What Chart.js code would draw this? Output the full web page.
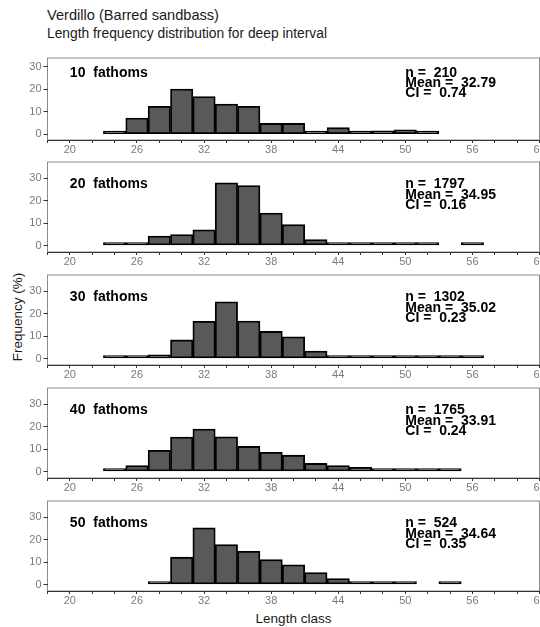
<!DOCTYPE html>
<html>
<head>
<meta charset="utf-8">
<script src="https://cdn.jsdelivr.net/npm/chart.js@4.4.0/dist/chart.umd.min.js"></script>
<style>
  html, body { margin: 0; padding: 0; background: #fff; }
  body { width: 540px; height: 627px; position: relative; overflow: hidden;
         font-family: "Liberation Sans", Arial, sans-serif; }
  .txt { position: absolute; white-space: nowrap; color: #1a1a1a; line-height: 1; }
  canvas { position: absolute; left: 0; }
</style>
</head>
<body>
<div class="txt" style="left:47px; top:14.5px; font-size:14.6px; transform:translateY(-50%);">Verdillo (Barred sandbass)</div>
<div class="txt" style="left:47px; top:34px; font-size:13.8px; transform:translateY(-50%);">Length frequency distribution for deep interval</div>
<div class="txt" style="left:17.5px; top:317px; font-size:13.5px; transform:translate(-50%,-50%) rotate(-90deg);">Frequency (%)</div>
<div class="txt" style="left:293.5px; top:619px; font-size:13.5px; transform:translate(-50%,-50%);">Length class</div>

<script>
// length class (bin centres, 2 cm bins)
const lengthClasses = [24, 26, 28, 30, 32, 34, 36, 38, 40, 42, 44, 46, 48, 50, 52, 54, 56];

// frequency (%) per depth, null = no fish in that class
const freq10 = [0.48, 7.14, 12.38, 20.0, 16.67, 13.33, 12.38, 4.76, 4.76, 0.95, 2.86, 0.48, 1.43, 1.9, 0.48, null, null];
const freq20 = [0.2, 0.9, 4.2, 4.9, 7.0, 28.0, 26.8, 14.5, 9.3, 2.7, 0.7, 0.4, 0.3, 0.3, 0.3, null, 0.15];
const freq30 = [0.15, 0.6, 1.6, 8.3, 16.6, 25.3, 16.7, 12.1, 9.7, 3.3, 1.3, 0.9, 0.7, 0.8, 0.5, 0.3, 0.2];
const freq40 = [0.3, 2.6, 9.5, 15.4, 19.0, 15.5, 11.2, 8.6, 7.3, 3.6, 2.7, 1.9, 1.0, 0.4, 0.7, 0.6, null];
const freq50 = [null, null, 1.3, 12.2, 25.3, 17.8, 14.8, 11.1, 8.8, 5.3, 2.7, 0.38, 0.38, 0.38, null, 0.38, null];

const depths = ["10", "20", "30", "40", "50"];
const sampleSizes = ["210", "1797", "1302", "1765", "524"];
const means = ["32.79", "34.95", "35.02", "33.91", "34.64"];
const cis = ["0.74", "0.16", "0.23", "0.24", "0.35"];

const xTickLabels = [20, 26, 32, 38, 44, 50, 56, 62];
const yTickLabels = [0, 10, 20, 30];

const allFreqs = [freq10, freq20, freq30, freq40, freq50];

// panel layout (pixels)
const panelBottoms = [139.5, 252.5, 365.5, 478.5, 591.5];
const panelHeights = [82, 90.5, 90.5, 90.5, 90.5];
const yRanges = [[-2.6, 33.8], [-2.9, 37.3], [-2.9, 37.3], [-2.9, 37.3], [-2.9, 37.3]];
const padTop = 10;
const axisH = 26;
const canvasW = 580;
const plotLeft = 47.5;
const plotRight = 539.5;

const FONT = "'Liberation Sans', Arial, sans-serif";

const boxPlugin = {
  id: "box",
  beforeDraw(chart) {
    const { ctx, chartArea: a } = chart;
    ctx.save();
    ctx.strokeStyle = "#8c8c8c";
    ctx.lineWidth = 1;
    ctx.strokeRect(a.left, a.top, a.right - a.left, a.bottom - a.top);
    ctx.restore();
  }
};

const panelText = {
  id: "panelText",
  afterDatasetsDraw(chart, args, opts) {
    const { ctx, scales: { x, y } } = chart;
    ctx.save();
    ctx.fillStyle = "#000";
    ctx.font = "bold 14px " + FONT;
    ctx.textBaseline = "middle";
    ctx.textAlign = "left";
    const top = y.getPixelForValue(27.2);
    ctx.fillText(opts.label, x.getPixelForValue(20), top);
    opts.lines.forEach((line, i) => {
      ctx.fillText(line, x.getPixelForValue(50), top + i * 10.3);
    });
    ctx.restore();
  }
};

for (let p = 0; p < depths.length; p++) {
  const canvas = document.createElement("canvas");
  const h = padTop + panelHeights[p] + axisH;
  canvas.width = canvasW;
  canvas.height = h;
  canvas.style.top = (panelBottoms[p] - panelHeights[p] - padTop) + "px";
  document.body.appendChild(canvas);

  const points = [];
  lengthClasses.forEach((c, i) => {
    if (allFreqs[p][i] !== null) points.push({ x: c, y: allFreqs[p][i] });
  });

  new Chart(canvas.getContext("2d"), {
    type: "bar",
    data: {
      datasets: [{
        data: points,
        backgroundColor: "#595959",
        borderColor: "#000",
        borderWidth: 1.8,
        borderSkipped: false,
        barPercentage: 1,
        categoryPercentage: 1,
        minBarLength: 3
      }]
    },
    options: {
      responsive: false,
      devicePixelRatio: 1,
      animation: false,
      layout: { padding: { top: padTop, right: canvasW - plotRight, bottom: 0, left: 0 } },
      plugins: {
        legend: { display: false },
        tooltip: { enabled: false },
        panelText: {
          label: depths[p] + "  fathoms",
          lines: ["n =  " + sampleSizes[p], "Mean =  " + means[p], "CI =  " + cis[p]]
        }
      },
      scales: {
        x: {
          type: "linear",
          offset: false,
          min: 18,
          max: 62,
          ticks: {
            stepSize: 2,
            autoSkip: false,
            maxRotation: 0,
            color: "#7a7a7a",
            font: { size: 11, family: FONT, lineHeight: 1 },
            padding: 1,
            callback: (v) => (xTickLabels.includes(v) ? String(v) : "")
          },
          grid: { offset: false, drawOnChartArea: false, drawTicks: true, tickLength: 3, color: "#333" },
          border: { display: true, color: "#333", width: 1 },
          afterFit: (s) => { s.height = axisH; s.paddingLeft = 0; s.paddingRight = 0; }
        },
        y: {
          min: yRanges[p][0],
          max: yRanges[p][1],
          ticks: {
            stepSize: 10,
            includeBounds: false,
            color: "#7a7a7a",
            font: { size: 11, family: FONT },
            padding: 2,
            callback: (v) => (yTickLabels.includes(v) ? String(v) : "")
          },
          grid: { drawOnChartArea: false, drawTicks: true, tickLength: 4, color: "#333" },
          border: { display: false },
          afterFit: (s) => { s.width = plotLeft; s.paddingTop = 0; s.paddingBottom = 0; }
        }
      }
    },
    plugins: [boxPlugin, panelText]
  });
}
</script>
</body>
</html>
